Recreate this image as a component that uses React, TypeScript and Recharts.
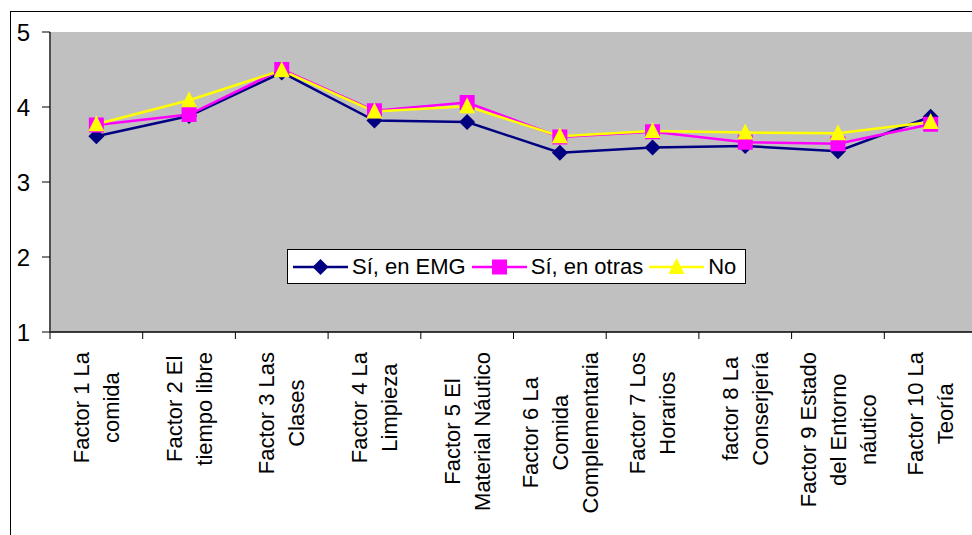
import { LineChart, Line, XAxis, YAxis, CartesianGrid } from 'recharts';

const CATEGORIES = [
  'Factor 1 La\ncomida',
  'Factor 2 El\ntiempo libre',
  'Factor 3 Las\nClases',
  'Factor 4 La\nLimpieza',
  'Factor 5 El\nMaterial Náutico',
  'Factor 6 La\nComida\nComplementaria',
  'Factor 7 Los\nHorarios',
  'factor 8 La\nConserjería',
  'Factor 9 Estado\ndel Entorno\nnáutico',
  'Factor 10 La\nTeoría',
];

const EMG = [3.61, 3.88, 4.46, 3.82, 3.8, 3.39, 3.46, 3.48, 3.41, 3.87];
const OTRAS = [3.76, 3.9, 4.5, 3.95, 4.06, 3.6, 3.67, 3.53, 3.51, 3.77];
const NO = [3.77, 4.09, 4.49, 3.94, 4.01, 3.61, 3.68, 3.66, 3.65, 3.8];

const Y_TICKS = [1, 2, 3, 4, 5];

const SERIES = [
  { key: 'emg', name: 'Sí, en EMG', color: '#000080', shape: 'diamond' },
  { key: 'otras', name: 'Sí, en otras', color: '#FF00FF', shape: 'square' },
  { key: 'no', name: 'No', color: '#FFFF00', shape: 'triangle' },
];

const data = CATEGORIES.map((name, i) => ({
  name,
  emg: EMG[i],
  otras: OTRAS[i],
  no: NO[i],
}));

const FONT = '"Liberation Sans", Arial, sans-serif';
const CHART_W = 990;
const CHART_H = 535;
const MARGIN = { top: 32, right: 13, bottom: 0, left: 0 };
const Y_AXIS_W = 50;
const X_AXIS_H = 203;
const PLOT_W = CHART_W - MARGIN.left - MARGIN.right - Y_AXIS_W;
const AXIS_Y = CHART_H - X_AXIS_H;
const BAND = PLOT_W / CATEGORIES.length;
const LINE_GAP = 30;

let ctx: CanvasRenderingContext2D | null = null;
function textWidth(s: string) {
  if (!ctx) ctx = document.createElement('canvas').getContext('2d');
  if (!ctx) return s.length * 11;
  ctx.font = `22px ${FONT}`;
  return ctx.measureText(s).width;
}

function Marker({ shape, cx, cy, color }: { shape: string; cx: number; cy: number; color: string }) {
  if (shape === 'diamond') {
    return (
      <polygon
        points={`${cx},${cy - 8} ${cx + 8},${cy} ${cx},${cy + 8} ${cx - 8},${cy}`}
        fill={color}
      />
    );
  }
  if (shape === 'square') {
    return <rect x={cx - 7.5} y={cy - 7.5} width={15} height={15} fill={color} />;
  }
  return (
    <polygon
      points={`${cx},${cy - 9} ${cx + 8},${cy + 7} ${cx - 8},${cy + 7}`}
      fill={color}
    />
  );
}

const CategoryTick = (props: any) => {
  const { x, payload, index } = props;
  const lines: string[] = String(payload.value).split('\n');
  const maxW = Math.max(...lines.map(textWidth));
  const top = AXIS_Y + 20;
  const n = lines.length;
  return (
    <g>
      <line x1={x - BAND / 2} y1={AXIS_Y} x2={x - BAND / 2} y2={AXIS_Y + 7} stroke="#000" />
      {index === CATEGORIES.length - 1 && (
        <line x1={x + BAND / 2} y1={AXIS_Y} x2={x + BAND / 2} y2={AXIS_Y + 7} stroke="#000" />
      )}
      {lines.map((ln, i) => (
        <text
          key={i}
          transform={`translate(${x + (i - (n - 1) / 2) * LINE_GAP}, ${top + maxW / 2}) rotate(-90)`}
          textAnchor="middle"
          dy="0.35em"
          fontSize={22}
          fontFamily={FONT}
          fill="#000"
        >
          {ln}
        </text>
      ))}
    </g>
  );
};

function ChartLegend() {
  return (
    <div
      style={{
        position: 'absolute',
        left: 287,
        top: 249,
        width: 459,
        height: 35,
        boxSizing: 'border-box',
        border: '1px solid #000',
        background: '#fff',
        display: 'flex',
        alignItems: 'center',
        paddingLeft: 5,
        fontFamily: FONT,
        fontSize: 22,
        color: '#000',
      }}
    >
      {SERIES.map((s) => (
        <div key={s.key} style={{ display: 'flex', alignItems: 'center', marginRight: 6 }}>
          <svg width={55} height={24} style={{ marginRight: 4 }}>
            <line x1={0} y1={12} x2={55} y2={12} stroke={s.color} strokeWidth={2.5} />
            <Marker shape={s.shape} cx={27.5} cy={12} color={s.color} />
          </svg>
          <span>{s.name}</span>
        </div>
      ))}
    </div>
  );
}

export default function App() {
  return (
    <div
      style={{
        position: 'absolute',
        left: 0,
        top: 0,
        width: 972,
        height: 535,
        overflow: 'hidden',
        background: '#fff',
        fontFamily: FONT,
      }}
    >
      <div
        style={{
          position: 'absolute',
          left: 10,
          top: 11,
          width: 1000,
          height: 600,
          border: '1px solid #000',
        }}
      />
      <div style={{ position: 'absolute', left: 0, top: 0 }}>
        <LineChart width={CHART_W} height={CHART_H} data={data} margin={MARGIN}>
          <CartesianGrid fill="#C0C0C0" horizontal={false} vertical={false} />
          <XAxis
            dataKey="name"
            height={X_AXIS_H}
            interval={0}
            padding={{ left: BAND / 2, right: BAND / 2 }}
            axisLine={{ stroke: '#000', strokeWidth: 1.5 }}
            tickLine={false}
            tick={<CategoryTick />}
          />
          <YAxis
            width={Y_AXIS_W}
            domain={[1, 5]}
            ticks={Y_TICKS}
            interval={0}
            axisLine={{ stroke: '#505050', strokeWidth: 2 }}
            tickLine={{ stroke: '#000' }}
            tickSize={8}
            tickMargin={12}
            tick={{ fontSize: 24, fill: '#000', fontFamily: FONT }}
          />
          {SERIES.map((s) => (
            <Line
              key={s.key}
              dataKey={s.key}
              name={s.name}
              stroke={s.color}
              strokeWidth={2.5}
              isAnimationActive={false}
              dot={(p: any) => (
                <Marker key={`${s.key}-${p.index}`} shape={s.shape} cx={p.cx} cy={p.cy} color={s.color} />
              )}
              activeDot={false}
            />
          ))}
        </LineChart>
      </div>
      <ChartLegend />
    </div>
  );
}
